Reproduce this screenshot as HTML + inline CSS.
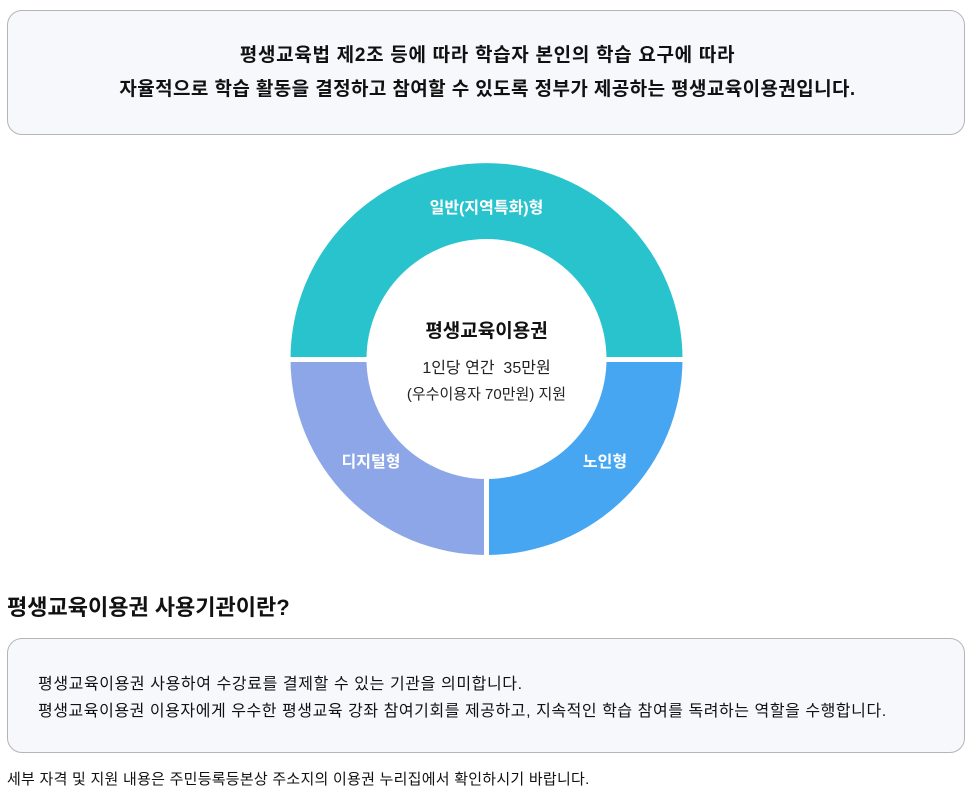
<!DOCTYPE html>
<html><head><meta charset="utf-8"><style>
body{margin:0;width:975px;height:803px;background:#fff;font-family:"Liberation Sans","Noto Sans CJK KR",sans-serif;color:#111;position:relative;overflow:hidden}
.box{position:absolute;left:7px;width:958px;background:#f7f8fc;border:1px solid #b5b5b8;border-radius:15px;box-sizing:border-box}
.t{position:absolute;white-space:nowrap}
</style></head><body>
<div class="box" style="top:10px;height:125px"></div>
<div class="t" style="left:0;width:975px;text-align:center;top:40px;font-size:19px;font-weight:bold;letter-spacing:0.7px">평생교육법 제2조 등에 따라 학습자 본인의 학습 요구에 따라</div>
<div class="t" style="left:0;width:975px;text-align:center;top:74px;font-size:19px;font-weight:bold;letter-spacing:0.4px">자율적으로 학습 활동을 결정하고 참여할 수 있도록 정부가 제공하는 평생교육이용권입니다.</div>

<svg style="position:absolute;left:0;top:0" width="975" height="803">
<path d="M290.5 359 A196 196 0 0 1 682.5 359 Z" fill="#28c3cc"/>
<path d="M290.5 359 A196 196 0 0 0 486.5 555 L486.5 359 Z" fill="#8da6e8"/>
<path d="M682.5 359 A196 196 0 0 1 486.5 555 L486.5 359 Z" fill="#47a6f1"/>
<line x1="285" y1="359.5" x2="690" y2="359.5" stroke="#fff" stroke-width="5"/>
<line x1="486.5" y1="359" x2="486.5" y2="560" stroke="#fff" stroke-width="5"/>
<circle cx="486.5" cy="359" r="120" fill="#fff"/>
<g font-family="Liberation Sans, Noto Sans CJK KR, sans-serif" text-anchor="middle">
<text x="486.5" y="213" font-size="16" font-weight="bold" fill="#fff">일반(지역특화)형</text>
<text x="371" y="467" font-size="16" font-weight="bold" fill="#fff">디지털형</text>
<text x="605" y="467" font-size="16" font-weight="bold" fill="#fff">노인형</text>
<text x="486.5" y="337" font-size="19" font-weight="bold" fill="#111">평생교육이용권</text>
<text x="486.5" y="373" font-size="16" fill="#222" xml:space="preserve">1인당 연간  35만원</text>
<text x="486.5" y="399" font-size="15" fill="#222">(우수이용자 70만원) 지원</text>
</g>
</svg>

<div class="t" style="left:7px;top:590px;font-size:22px;font-weight:bold;letter-spacing:0px">평생교육이용권 사용기관이란?</div>
<div class="box" style="top:638px;height:115px"></div>
<div class="t" style="left:38px;top:670px;font-size:16px;letter-spacing:0.6px">평생교육이용권 사용하여 수강료를 결제할 수 있는 기관을 의미합니다.</div>
<div class="t" style="left:38px;top:697px;font-size:16px;letter-spacing:0.55px">평생교육이용권 이용자에게 우수한 평생교육 강좌 참여기회를 제공하고, 지속적인 학습 참여를 독려하는 역할을 수행합니다.</div>
<div class="t" style="left:7px;top:768px;font-size:15px;letter-spacing:0.25px">세부 자격 및 지원 내용은 주민등록등본상 주소지의 이용권 누리집에서 확인하시기 바랍니다.</div>
</body></html>
